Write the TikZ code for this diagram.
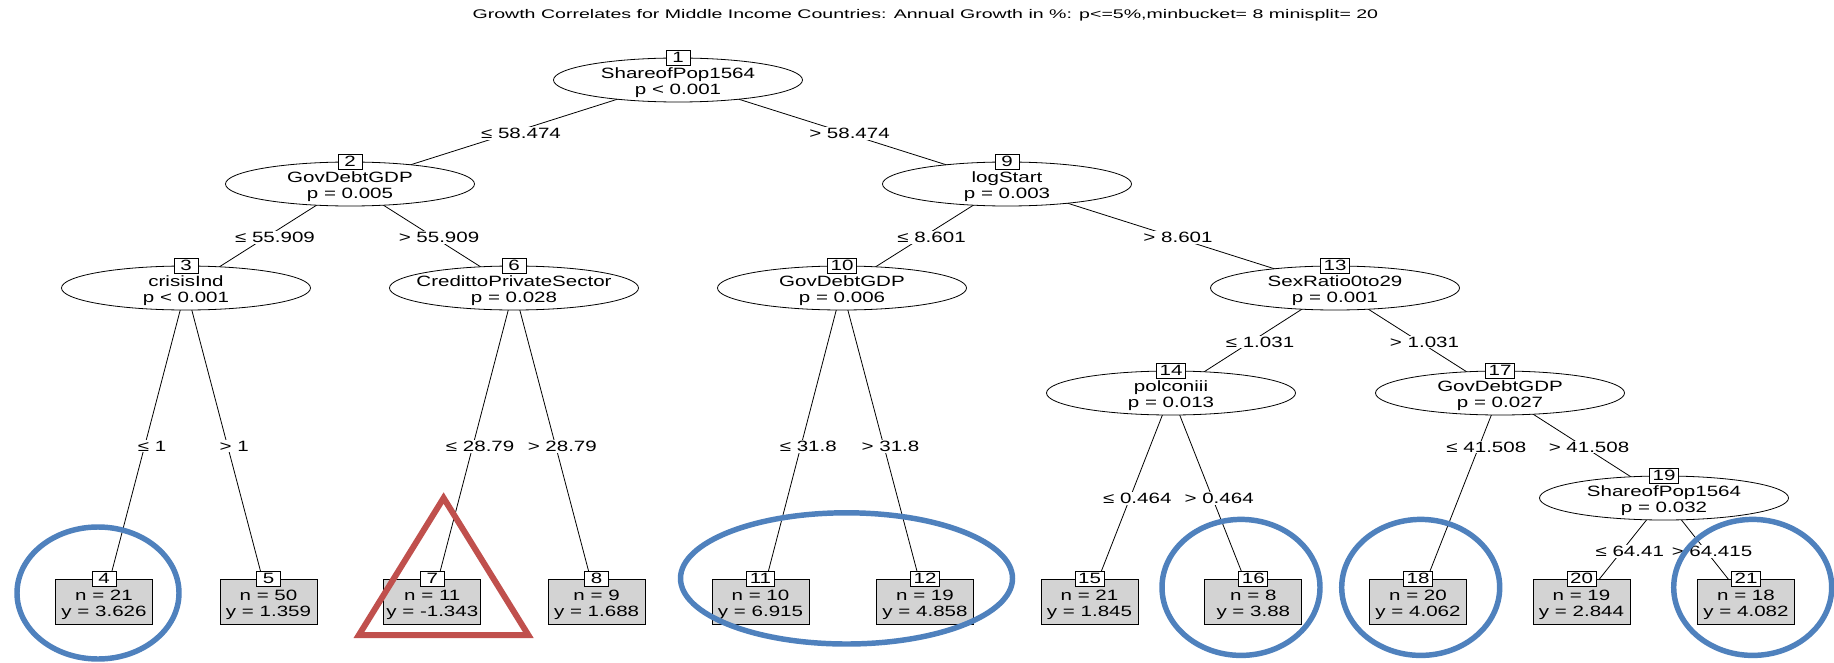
\documentclass[tikz,border=0pt]{standalone}
\usepackage{fontspec}
\setmainfont{Liberation Sans}
\usetikzlibrary{shapes.geometric,backgrounds}
\definecolor{circblue}{RGB}{79,129,189}
\definecolor{trired}{RGB}{192,80,77}
\definecolor{leafgray}{RGB}{211,211,211}
\newcommand{\wtxt}[1]{\scalebox{1.375}[1]{#1}}
\newcommand{\ttltxt}[1]{\scalebox{1.56}[1]{#1}}
\begin{document}
\begin{tikzpicture}[x=0.75pt,y=-0.75pt,
  every node/.style={font=\fontsize{11.2pt}{11.9pt}\selectfont},
  inner/.style={ellipse, draw=black, line width=0.6pt, fill=white,
    minimum width=186.75pt, minimum height=33pt, inner sep=0pt},
  itxt/.style={align=center, inner sep=0pt, yshift=-2.1pt},
  leaf/.style={rectangle, draw=black, line width=0.6pt, fill=leafgray,
    minimum width=72.75pt, minimum height=33.75pt, inner sep=0pt},
  ltxt/.style={align=center, inner sep=0pt, yshift=-2.4pt},
  numbox/.style={rectangle, draw=black, line width=0.6pt, fill=white,
    minimum width=18pt, minimum height=11.25pt, inner xsep=2.25pt, inner ysep=0pt},
  edge/.style={draw=black, line width=0.6pt},
  lbl/.style={fill=white, inner sep=0.8pt, xshift=5.25pt, yshift=-1.1pt},
  hilite/.style={draw=circblue, line width=4.1pt},
]
\useasboundingbox (0,0) rectangle (1834,663);
\begin{pgfonlayer}{background}
\fill[white] (0,0) rectangle (1834,663);
\end{pgfonlayer}

% title
\node[anchor=base, inner sep=0pt, font=\fontsize{9.4pt}{10pt}\selectfont] (title) at (925.4,19)
  {\ttltxt{Growth Correlates for Middle Income Countries: Annual Growth in \%: p<=5\%,minbucket= 8 minisplit= 20}};

% inner nodes
\node[inner] (n1) at (678,80) {};
\node[inner] (n2) at (350,184) {};
\node[inner] (n9) at (1007,184) {};
\node[inner] (n3) at (186,288) {};
\node[inner] (n6) at (514,288) {};
\node[inner] (n10) at (842,288) {};
\node[inner] (n13) at (1335,288) {};
\node[inner] (n14) at (1171,393) {};
\node[inner] (n17) at (1500,393) {};
\node[inner] (n19) at (1664,498) {};

\node[itxt] (t1) at (n1) {\wtxt{ShareofPop1564}\\\wtxt{p < 0.001}};
\node[itxt] (t2) at (n2) {\wtxt{GovDebtGDP}\\\wtxt{p = 0.005}};
\node[itxt] (t9) at (n9) {\wtxt{logStart}\\\wtxt{p = 0.003}};
\node[itxt] (t3) at (n3) {\wtxt{crisisInd}\\\wtxt{p < 0.001}};
\node[itxt] (t6) at (n6) {\wtxt{CredittoPrivateSector}\\\wtxt{p = 0.028}};
\node[itxt] (t10) at (n10) {\wtxt{GovDebtGDP}\\\wtxt{p = 0.006}};
\node[itxt] (t13) at (n13) {\wtxt{SexRatio0to29}\\\wtxt{p = 0.001}};
\node[itxt] (t14) at (n14) {\wtxt{polconiii}\\\wtxt{p = 0.013}};
\node[itxt] (t17) at (n17) {\wtxt{GovDebtGDP}\\\wtxt{p = 0.027}};
\node[itxt] (t19) at (n19) {\wtxt{ShareofPop1564}\\\wtxt{p = 0.032}};

% leaves
\node[leaf] (n4) at (104,601.5) {};
\node[leaf] (n5) at (268.5,601.5) {};
\node[leaf] (n7) at (432.3,601.5) {};
\node[leaf] (n8) at (596.6,601.5) {};
\node[leaf] (n11) at (760.5,601.5) {};
\node[leaf] (n12) at (925,601.5) {};
\node[leaf] (n15) at (1089.5,601.5) {};
\node[leaf] (n16) at (1253.3,601.5) {};
\node[leaf] (n18) at (1418,601.5) {};
\node[leaf] (n20) at (1581.5,601.5) {};
\node[leaf] (n21) at (1746,601.5) {};

\node[ltxt] (t4) at (n4) {\wtxt{n = 21}\\\wtxt{y = 3.626}};
\node[ltxt] (t5) at (n5) {\wtxt{n = 50}\\\wtxt{y = 1.359}};
\node[ltxt] (t7) at (n7) {\wtxt{n = 11}\\\wtxt{y = -1.343}};
\node[ltxt] (t8) at (n8) {\wtxt{n = 9}\\\wtxt{y = 1.688}};
\node[ltxt] (t11) at (n11) {\wtxt{n = 10}\\\wtxt{y = 6.915}};
\node[ltxt] (t12) at (n12) {\wtxt{n = 19}\\\wtxt{y = 4.858}};
\node[ltxt] (t15) at (n15) {\wtxt{n = 21}\\\wtxt{y = 1.845}};
\node[ltxt] (t16) at (n16) {\wtxt{n = 8}\\\wtxt{y = 3.88}};
\node[ltxt] (t18) at (n18) {\wtxt{n = 20}\\\wtxt{y = 4.062}};
\node[ltxt] (t20) at (n20) {\wtxt{n = 19}\\\wtxt{y = 2.844}};
\node[ltxt] (t21) at (n21) {\wtxt{n = 18}\\\wtxt{y = 4.082}};

% number boxes
\foreach \k in {1,2,9,3,6,10,13,14,17,19,4,5,7,8,11,12,15,16,18,20,21}
  \node[numbox] (b\k) at (n\k.north) {\wtxt{\k}};

% edges with split labels
\begin{pgfonlayer}{background}
\draw[edge] (n1.center) -- node[lbl] (l2) {\wtxt{≤ 58.474}} (n2.center);
\draw[edge] (n1.center) -- node[lbl] (l9) {\wtxt{> 58.474}} (n9.center);
\draw[edge] (n2.center) -- node[lbl] (l3) {\wtxt{≤ 55.909}} (n3.center);
\draw[edge] (n2.center) -- node[lbl] (l6) {\wtxt{> 55.909}} (n6.center);
\draw[edge] (n9.center) -- node[lbl] (l10) {\wtxt{≤ 8.601}} (n10.center);
\draw[edge] (n9.center) -- node[lbl] (l13) {\wtxt{> 8.601}} (n13.center);
\draw[edge] (n3.center) -- node[lbl] (l4) {\wtxt{≤ 1}} (n4.center);
\draw[edge] (n3.center) -- node[lbl] (l5) {\wtxt{> 1}} (n5.center);
\draw[edge] (n6.center) -- node[lbl] (l7) {\wtxt{≤ 28.79}} (n7.center);
\draw[edge] (n6.center) -- node[lbl] (l8) {\wtxt{> 28.79}} (n8.center);
\draw[edge] (n10.center) -- node[lbl] (l11) {\wtxt{≤ 31.8}} (n11.center);
\draw[edge] (n10.center) -- node[lbl] (l12) {\wtxt{> 31.8}} (n12.center);
\draw[edge] (n13.center) -- node[lbl] (l14) {\wtxt{≤ 1.031}} (n14.center);
\draw[edge] (n13.center) -- node[lbl] (l17) {\wtxt{> 1.031}} (n17.center);
\draw[edge] (n14.center) -- node[lbl] (l15) {\wtxt{≤ 0.464}} (n15.center);
\draw[edge] (n14.center) -- node[lbl] (l16) {\wtxt{> 0.464}} (n16.center);
\draw[edge] (n17.center) -- node[lbl, pos=0.252] (l18) {\wtxt{≤ 41.508}} (n18.center);
\draw[edge] (n17.center) -- node[lbl] (l19) {\wtxt{> 41.508}} (n19.center);
\draw[edge] (n19.center) -- node[lbl] (l20) {\wtxt{≤ 64.41}} (n20.center);
\draw[edge] (n19.center) -- node[lbl] (l21) {\wtxt{> 64.415}} (n21.center);
\end{pgfonlayer}

% highlight marks
\draw[hilite] (98,593) ellipse [x radius=81, y radius=66];
\draw[hilite] (846.5,578.4) ellipse [x radius=166, y radius=65.6];
\draw[hilite] (1241,587.4) ellipse [x radius=79, y radius=68];
\draw[hilite] (1420.7,587.4) ellipse [x radius=79, y radius=68];
\draw[hilite] (1752.7,587.4) ellipse [x radius=79, y radius=68];
\draw[draw=trired, line width=4.5pt, line join=miter] (443.6,498) -- (358.9,635) -- (528.3,635) -- cycle;
\end{tikzpicture}
\end{document}
